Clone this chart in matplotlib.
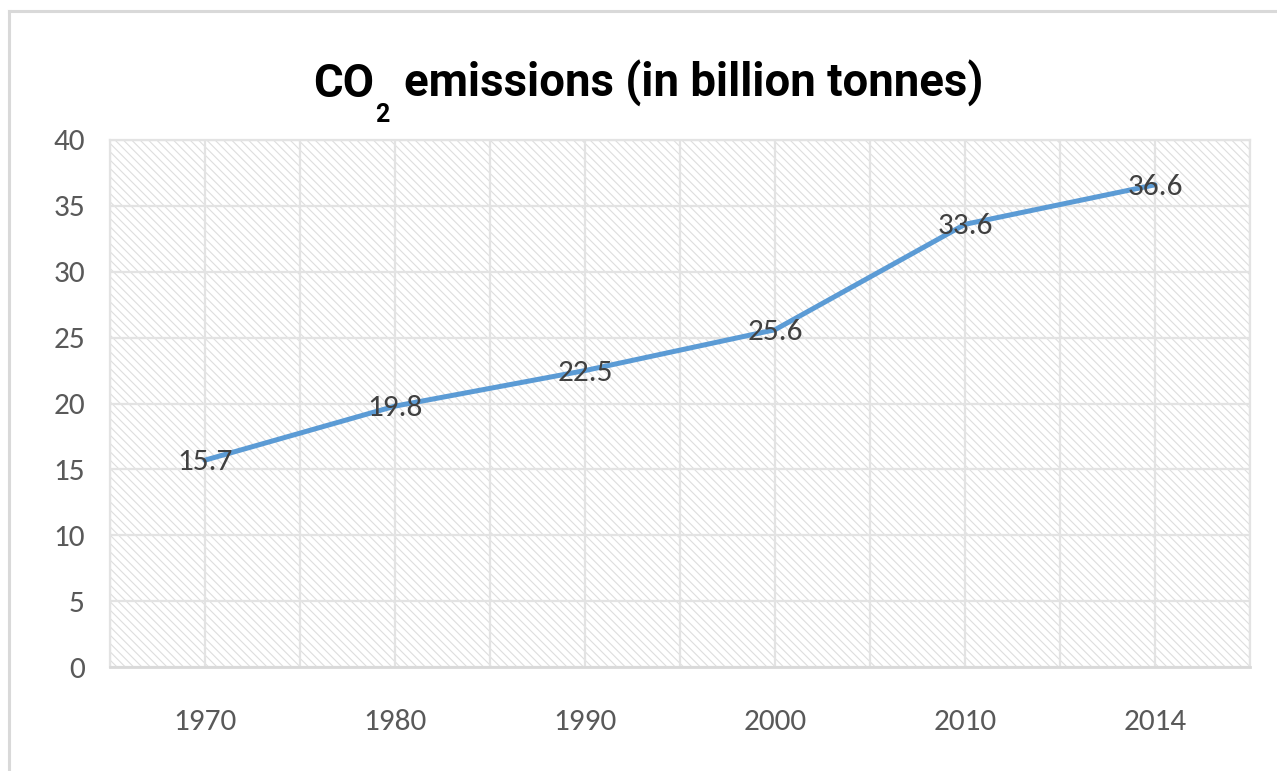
import matplotlib
matplotlib.use("Agg")
import matplotlib.pyplot as plt
from matplotlib import font_manager as fm
from matplotlib.patches import Rectangle
from matplotlib.lines import Line2D
from matplotlib.ticker import MultipleLocator

years = ["1970", "1980", "1990", "2000", "2010", "2014"]
emissions = [15.7, 19.8, 22.5, 25.6, 33.6, 36.6]
title_parts = ["CO", "2", "emissions (in billion tonnes)"]


def pick(cands, weight='normal'):
    for c in cands:
        try:
            fm.findfont(fm.FontProperties(family=c, weight=weight), fallback_to_default=False)
            return c
        except Exception:
            pass
    return 'DejaVu Sans'


body_font = pick(['Carlito', 'Open Sans'])
body_size = 22.5 if body_font == 'Carlito' else 19.5
title_font = pick(['Roboto', 'Liberation Sans'], weight='bold')

plt.rcParams['hatch.linewidth'] = 0.8

W, H = 1277, 771
fig = plt.figure(figsize=(W / 100, H / 100), dpi=100)
ax = fig.add_axes([110 / W, (H - 667) / H, (1250 - 110) / W, (667 - 140) / H])

# border lines of chart area
fig.add_artist(Line2D([9 / W, 9 / W], [0, 1 - 11 / H], transform=fig.transFigure, color='#d9d9d9', lw=2.2))
fig.add_artist(Line2D([9 / W, 1], [1 - 11 / H, 1 - 11 / H], transform=fig.transFigure, color='#d9d9d9', lw=2.2))

# hatched plot area
ax.add_patch(Rectangle((0, 0), 1, 1, transform=ax.transAxes, facecolor='white',
                       edgecolor='#dedede', hatch='\\\\\\\\', lw=0, zorder=0))

x = list(range(len(years)))
ax.plot(x, emissions, color='#5b9bd5', lw=3.6, zorder=3, solid_capstyle='round')
for xi, v in zip(x, emissions):
    ax.annotate(f"{v}", (xi, v), xytext=(0, -7.2), textcoords='offset points',
                ha='center', va='baseline', fontsize=body_size, color='#404040',
                family=body_font, zorder=4)

ax.set_xlim(-0.5, len(years) - 0.5)
ax.set_ylim(0, 40)
ax.set_xticks(x)
ax.set_xticklabels(years)
ax.xaxis.set_minor_locator(MultipleLocator(0.5))
ax.yaxis.set_major_locator(MultipleLocator(5))
ax.grid(True, which='both', axis='x', color='#e3e3e3', lw=1.6, zorder=1)
ax.grid(True, which='major', axis='y', color='#e3e3e3', lw=1.6, zorder=1)
ax.set_axisbelow(True)
for s in ax.spines.values():
    s.set_color('#e3e3e3')
    s.set_linewidth(1.6)
ax.spines['bottom'].set_color('#d9d9d9')
ax.spines['bottom'].set_linewidth(2)
ax.tick_params(axis='both', which='both', length=0, labelsize=body_size, labelcolor='#595959')
ax.tick_params(axis='x', pad=30)
ax.tick_params(axis='y', pad=18)
for lab in ax.get_xticklabels() + ax.get_yticklabels():
    lab.set_family(body_font)

# title built from pieces so the subscript sits like the original
renderer = fig.canvas.get_renderer()
main_size, sub_size = 32.8, 18
baseline_px = 97
sub_drop_px = 25
sizes = [main_size, sub_size, main_size]
drops = [0, sub_drop_px, 0]
gaps = [1, 14, 0]
texts = []
for part, sz, dr in zip(title_parts, sizes, drops):
    t = fig.text(0, 1 - (baseline_px + dr) / H, part, ha='left', va='baseline', fontsize=sz,
                 family=title_font, fontweight='bold', color='black')
    texts.append(t)
widths = [t.get_window_extent(renderer).width for t in texts]
total = sum(widths) + sum(gaps)
xcur = 648 - total / 2
for t, w, g in zip(texts, widths, gaps):
    t.set_x(xcur / W)
    xcur += w + g

fig.savefig("out.png", dpi=100)
